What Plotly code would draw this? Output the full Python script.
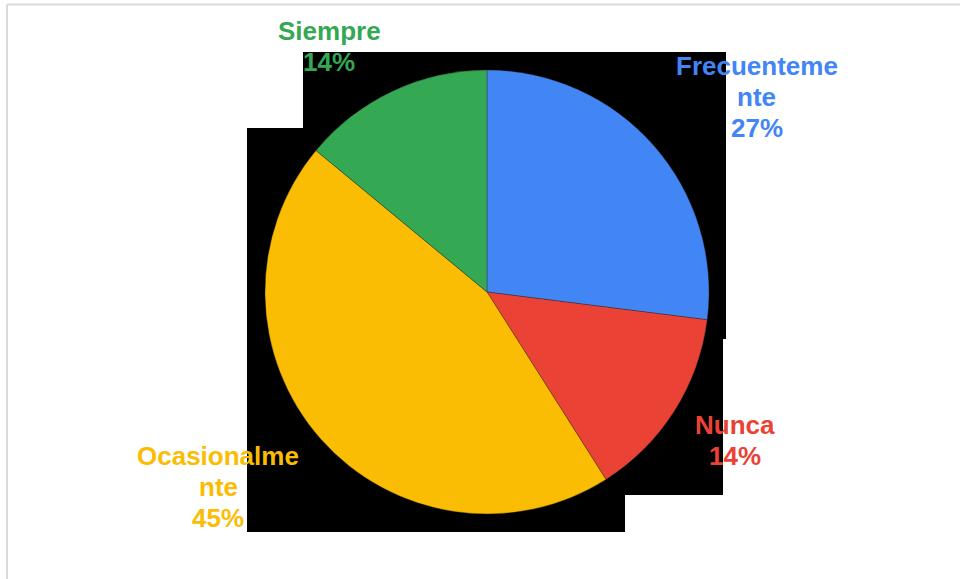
import plotly.graph_objects as go

# Survey answers and their share (%)
categories = ["Frecuentemente", "Nunca", "Ocasionalmente", "Siempre"]
shares = [27, 14, 45, 14]
colors = ["#4285F4", "#EA4335", "#FBBC04", "#34A853"]

W, H = 960, 579
LABEL_FONT = "Liberation Sans, Arial, sans-serif"
LINE_STEP = 31          # px between label lines
WRAP = 11               # characters per label line

# Label anchor (centre of first line) in pixels, one per category
label_pos = [(756.5, 66), (734.5, 424.5), (218, 456), (329, 31)]


def px(x, y):
    """Pixel position -> paper coordinates."""
    return x / W, 1 - y / H


def wrap(text, n):
    return [text[i:i + n] for i in range(0, len(text), n)]


fig = go.Figure(
    go.Pie(
        labels=categories,
        values=shares,
        sort=False,
        direction="clockwise",
        rotation=0,
        marker=dict(colors=colors, line=dict(color="rgba(40,40,40,0.6)", width=0.6)),
        textinfo="none",
        hoverinfo="label+percent",
        showlegend=False,
        domain=dict(x=[(487 - 222) / W, (487 + 222) / W],
                    y=[(H - 292 - 222) / H, (H - 292 + 222) / H]),
    )
)

# Outside labels: wrapped category name followed by its percentage
annotations = []
for name, val, col, (lx, ly) in zip(categories, shares, colors, label_pos):
    lines = wrap(name, WRAP) + [f"{val}%"]
    for k, line in enumerate(lines):
        ax, ay = px(lx, ly + k * LINE_STEP)
        annotations.append(dict(
            x=ax, y=ay, xref="paper", yref="paper",
            text=f"<b>{line}</b>", showarrow=False,
            xanchor="center", yanchor="middle",
            font=dict(family=LABEL_FONT, size=26, color=col),
        ))

# Dark backdrop behind the pie
backdrop = [(303, 52), (726, 52), (726, 339), (723, 339), (723, 495),
            (625, 495), (625, 532), (247, 532), (247, 128), (303, 128)]
path = "M " + " L ".join(f"{px(x, y)[0]:.5f},{px(x, y)[1]:.5f}" for x, y in backdrop) + " Z"

shapes = [
    dict(type="path", path=path, xref="paper", yref="paper",
         fillcolor="#000000", line=dict(width=0), layer="below"),
    # light frame along the top and left edges
    dict(type="line", xref="paper", yref="paper",
         x0=px(7, 4.5)[0], y0=px(7, 4.5)[1], x1=px(975, 4.5)[0], y1=px(975, 4.5)[1],
         line=dict(color="#dadada", width=2), layer="below"),
    dict(type="line", xref="paper", yref="paper",
         x0=px(7, 4.5)[0], y0=px(7, 4.5)[1], x1=px(7, 600)[0], y1=px(7, 600)[1],
         line=dict(color="#dadada", width=2), layer="below"),
]

fig.update_layout(
    width=W, height=H,
    margin=dict(l=0, r=0, t=0, b=0),
    paper_bgcolor="white", plot_bgcolor="white",
    annotations=annotations,
    shapes=shapes,
)

fig.write_html("out.html")
